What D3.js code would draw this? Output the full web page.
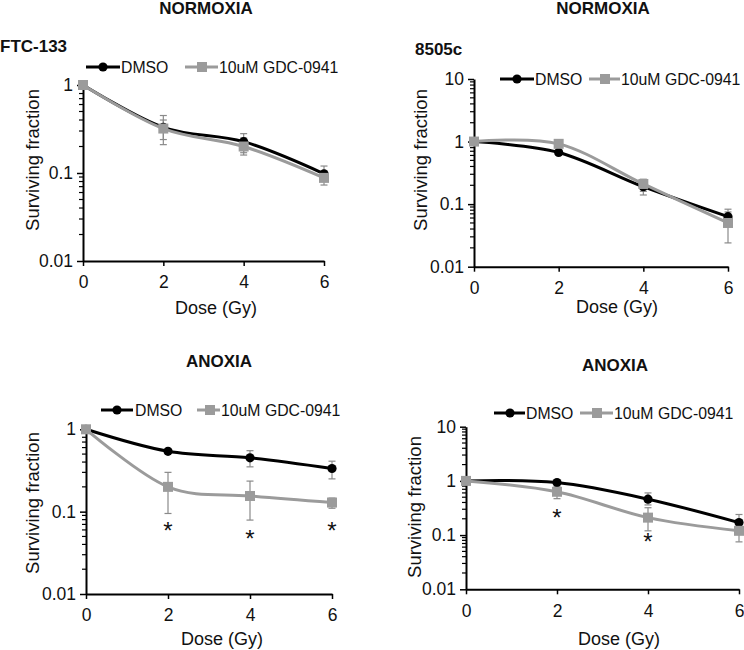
<!DOCTYPE html>
<html>
<head>
<meta charset="utf-8">
<script src="https://cdn.jsdelivr.net/npm/d3@7"></script>
<style>
  html, body { margin: 0; padding: 0; background: #fff; }
  svg { display: block; font-family: Arial, "Liberation Sans", sans-serif; }
</style>
</head>
<body>
<svg id="chart" width="744" height="650"></svg>
<script>
// ---------------- DATA ----------------
const doses = [0, 2, 4, 6];
const xTicks = [0, 2, 4, 6];
const seriesNames = ["DMSO", "10uM GDC-0941"];
const panelTitles = ["NORMOXIA", "NORMOXIA", "ANOXIA", "ANOXIA"];
const cellLines = ["FTC-133", "8505c", "", ""];
const yDomains = [[0.01, 1], [0.01, 10], [0.01, 1], [0.01, 10]];
const yTickLabels = [["0.01", "0.1", "1"], ["0.01", "0.1", "1", "10"], ["0.01", "0.1", "1"], ["0.01", "0.1", "1", "10"]];
const xLabel = "Dose (Gy)";
const yLabel = "Surviving fraction";

// Panel 1: FTC-133 normoxia
const p1Dmso   = [1, 0.33, 0.227, 0.098];
const p1DmsoHi = [1, 0.40, 0.28, 0.12];
const p1DmsoLo = [1, 0.24, 0.17, 0.080];
const p1Gdc    = [1, 0.32, 0.20, 0.088];
const p1GdcHi  = [1, 0.45, 0.25, 0.10];
const p1GdcLo  = [1, 0.21, 0.16, 0.073];
const p1Stars  = [];

// Panel 2: 8505c normoxia
const p2Dmso   = [1, 0.67, 0.19, 0.063];
const p2DmsoHi = [1, 0.71, 0.22, 0.075];
const p2DmsoLo = [1, 0.63, 0.16, 0.055];
const p2Gdc    = [1, 0.92, 0.21, 0.05];
const p2GdcHi  = [1, 1.07, 0.25, 0.083];
const p2GdcLo  = [1, 0.80, 0.14, 0.024];
const p2Stars  = [];

// Panel 3: FTC-133 anoxia
const p3Dmso   = [1, 0.54, 0.45, 0.334];
const p3DmsoHi = [1, 0.57, 0.55, 0.41];
const p3DmsoLo = [1, 0.51, 0.35, 0.25];
const p3Gdc    = [1, 0.20, 0.155, 0.129];
const p3GdcHi  = [1, 0.30, 0.235, 0.146];
const p3GdcLo  = [1, 0.095, 0.079, 0.11];
const p3Stars  = [[2, 0.068], [4, 0.054], [6, 0.068]];

// Panel 4: 8505c anoxia
const p4Dmso   = [1, 0.93, 0.46, 0.17];
const p4DmsoHi = [1, 0.97, 0.60, 0.24];
const p4DmsoLo = [1, 0.89, 0.36, 0.13];
const p4Gdc    = [1, 0.63, 0.21, 0.12];
const p4GdcHi  = [1, 0.78, 0.32, 0.16];
const p4GdcLo  = [1, 0.47, 0.12, 0.075];
const p4Stars  = [[2, 0.26], [4, 0.093]];

// ---------------- LAYOUT ----------------
const layout = [
  { x0: 83,  x1: 324, yTop: 85,    yBot: 261,   title: [206, 14],  cell: [0, 52],   legY: 67,
    leg: { m1: 103, l1: [86, 120], t1: 121, m2: 202, l2: [185, 218], t2: 219 },
    ylab: [32, 160], xlab: [216, 314] },
  { x0: 474, x1: 728, yTop: 79,    yBot: 266.7, title: [603, 14],  cell: [415, 55], legY: 79,
    leg: { m1: 517, l1: [500, 534], t1: 535, m2: 605, l2: [589, 620], t2: 621 },
    ylab: [420, 160], xlab: [617, 313] },
  { x0: 86,  x1: 332, yTop: 429.3, yBot: 594,   title: [219, 367], cell: null,     legY: 410,
    leg: { m1: 117, l1: [101, 133], t1: 135, m2: 210, l2: [197, 220], t2: 221 },
    ylab: [32, 503], xlab: [222, 645] },
  { x0: 466, x1: 739, yTop: 426.7, yBot: 589.3, title: [615, 371], cell: null,     legY: 413,
    leg: { m1: 510, l1: [494, 525], t1: 526, m2: 597, l2: [580, 613], t2: 614 },
    ylab: [414, 507], xlab: [619, 645] }
];

const panels = [
  { dmso: p1Dmso, dHi: p1DmsoHi, dLo: p1DmsoLo, gdc: p1Gdc, gHi: p1GdcHi, gLo: p1GdcLo, stars: p1Stars },
  { dmso: p2Dmso, dHi: p2DmsoHi, dLo: p2DmsoLo, gdc: p2Gdc, gHi: p2GdcHi, gLo: p2GdcLo, stars: p2Stars },
  { dmso: p3Dmso, dHi: p3DmsoHi, dLo: p3DmsoLo, gdc: p3Gdc, gHi: p3GdcHi, gLo: p3GdcLo, stars: p3Stars },
  { dmso: p4Dmso, dHi: p4DmsoHi, dLo: p4DmsoLo, gdc: p4Gdc, gHi: p4GdcHi, gLo: p4GdcLo, stars: p4Stars }
];

const BLACK = "#000000";
const GRAY = "#9b9b9b";
const ERR = "#8a8a8a";
const TXT = "#111";
const STAR_FS = 24;

const svg = d3.select("#chart");

panels.forEach((p, i) => {
  const L = layout[i];
  const g = svg.append("g");
  const x = d3.scaleLinear().domain([0, 6]).range([L.x0, L.x1]);
  const y = d3.scaleLog().domain(yDomains[i]).range([L.yBot, L.yTop]);

  // title
  g.append("text").attr("x", L.title[0]).attr("y", L.title[1])
    .attr("text-anchor", "middle").attr("font-weight", "bold").attr("font-size", 17)
    .attr("fill", TXT).text(panelTitles[i]);
  if (L.cell && cellLines[i]) {
    g.append("text").attr("x", L.cell[0]).attr("y", L.cell[1])
      .attr("font-weight", "bold").attr("font-size", 17).attr("fill", TXT).text(cellLines[i]);
  }

  // minor ticks
  const [lo, hi] = yDomains[i];
  const minor = [];
  for (let d = lo; d < hi * 0.999; d *= 10) {
    for (let k = 2; k <= 9; k++) minor.push(d * k);
  }
  g.selectAll(".minor").data(minor).join("line")
    .attr("x1", L.x0 - 4).attr("x2", L.x0)
    .attr("y1", d => y(d)).attr("y2", d => y(d))
    .attr("stroke", "#000").attr("stroke-width", 1.2);

  // y axis
  const yAxis = d3.axisLeft(y)
    .tickValues(yTickLabels[i].map(Number))
    .tickFormat((d, j) => yTickLabels[i][j])
    .tickSizeOuter(0).tickSizeInner(6).tickPadding(4);
  const ya = g.append("g").attr("transform", `translate(${L.x0},0)`).call(yAxis);
  ya.select(".domain").attr("stroke-width", 2);
  ya.selectAll(".tick line").attr("stroke-width", 1.5);
  ya.selectAll("text").attr("font-size", 17.5).attr("font-family", "Arial, 'Liberation Sans', sans-serif").attr("fill", TXT);

  // x axis
  const xAxis = d3.axisBottom(x).tickValues(xTicks).tickFormat(d3.format("d"))
    .tickSizeOuter(0).tickSizeInner(5).tickPadding(10);
  const xa = g.append("g").attr("transform", `translate(0,${L.yBot})`).call(xAxis);
  xa.select(".domain").attr("stroke-width", 2);
  xa.selectAll(".tick line").attr("stroke-width", 1.5);
  xa.selectAll("text").attr("font-size", 17.5).attr("font-family", "Arial, 'Liberation Sans', sans-serif").attr("fill", TXT);

  // axis titles
  g.append("text").attr("x", L.xlab[0]).attr("y", L.xlab[1])
    .attr("text-anchor", "middle").attr("font-size", 18).attr("fill", TXT).text(xLabel);
  g.append("text").attr("transform", `translate(${L.ylab[0]},${L.ylab[1]}) rotate(-90)`)
    .attr("text-anchor", "middle").attr("dominant-baseline", "central")
    .attr("font-size", 18.5).attr("fill", TXT).text(yLabel);

  // error bars
  const errSets = [
    { v: p.dmso, hi: p.dHi, lo: p.dLo },
    { v: p.gdc, hi: p.gHi, lo: p.gLo }
  ];
  errSets.forEach(s => {
    doses.forEach((dz, j) => {
      if (s.hi[j] === s.lo[j]) return;
      const cx = x(dz);
      g.append("line").attr("x1", cx).attr("x2", cx)
        .attr("y1", y(s.hi[j])).attr("y2", y(s.lo[j]))
        .attr("stroke", ERR).attr("stroke-width", 1.2);
      [s.hi[j], s.lo[j]].forEach(vv => {
        g.append("line").attr("x1", cx - 3.5).attr("x2", cx + 3.5)
          .attr("y1", y(vv)).attr("y2", y(vv))
          .attr("stroke", ERR).attr("stroke-width", 1.2);
      });
    });
  });

  const line = d3.line().x((d, j) => x(doses[j])).y(d => y(d)).curve(d3.curveCardinal.tension(0));

  // DMSO line + circles
  g.append("path").attr("d", line(p.dmso)).attr("fill", "none")
    .attr("stroke", BLACK).attr("stroke-width", 3);
  g.selectAll(".dm").data(p.dmso).join("circle")
    .attr("cx", (d, j) => x(doses[j])).attr("cy", d => y(d)).attr("r", 4.6).attr("fill", BLACK);

  // GDC line + squares
  g.append("path").attr("d", line(p.gdc)).attr("fill", "none")
    .attr("stroke", GRAY).attr("stroke-width", 3);
  g.selectAll(".gd").data(p.gdc).join("rect")
    .attr("x", (d, j) => x(doses[j]) - 5).attr("y", d => y(d) - 5)
    .attr("width", 10).attr("height", 10).attr("fill", GRAY);

  // significance stars (asterisk glyph sits high in the em box; shift baseline so glyph centres on the level)
  g.selectAll(".star").data(p.stars).join("text")
    .attr("x", d => x(d[0])).attr("y", d => y(d[1]) + STAR_FS * 0.57)
    .attr("text-anchor", "middle")
    .attr("font-size", STAR_FS).attr("fill", TXT).text("*");

  // legend
  const ly = L.legY;
  g.append("line").attr("x1", L.leg.l1[0]).attr("x2", L.leg.l1[1]).attr("y1", ly).attr("y2", ly)
    .attr("stroke", BLACK).attr("stroke-width", 3);
  g.append("circle").attr("cx", L.leg.m1).attr("cy", ly).attr("r", 4.6).attr("fill", BLACK);
  g.append("text").attr("x", L.leg.t1).attr("y", ly).attr("dominant-baseline", "central")
    .attr("font-size", 15.8).attr("fill", TXT).text(seriesNames[0]);
  g.append("line").attr("x1", L.leg.l2[0]).attr("x2", L.leg.l2[1]).attr("y1", ly).attr("y2", ly)
    .attr("stroke", GRAY).attr("stroke-width", 3);
  g.append("rect").attr("x", L.leg.m2 - 5).attr("y", ly - 5).attr("width", 10).attr("height", 10).attr("fill", GRAY);
  g.append("text").attr("x", L.leg.t2).attr("y", ly).attr("dominant-baseline", "central")
    .attr("font-size", 15.8).attr("fill", TXT).text(seriesNames[1]);
});
</script>
</body>
</html>
